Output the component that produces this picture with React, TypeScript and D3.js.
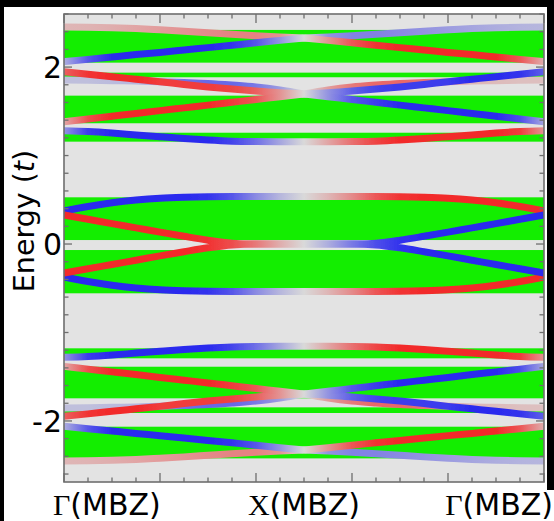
import React from "react";
import * as d3 from "d3";

const W = 554;
const H = 521;
const plot = { left: 64, right: 544, top: 14, bottom: 482 };

// Energy axis (units of t)
const energyDomain: [number, number] = [-2.69, 2.6];
const energyMajorTicks = [-2, 0, 2];
const energyMinorStep = 0.2;

// Path Γ → X → Γ, expressed as a fraction of the full path
const pathMajorTicks = [0, 0.2, 0.4, 0.6, 0.8, 1];
const pathMinorStep = 0.05;
const pointLabels = [
  { sym: "Γ", rest: "(MBZ)", k: 0 },
  { sym: "X", rest: "(MBZ)", k: 0.5 },
  { sym: "Γ", rest: "(MBZ)", k: 1 },
];

// Bulk continuum [Emin, Emax]
const bulkBands: [number, number][] = [
  [2.05, 2.42],
  [1.885, 1.937],
  [1.365, 1.677],
  [1.157, 1.258],
  [0.045, 0.528],
  [-0.557, -0.068],
  [-1.292, -1.179],
  [-1.744, -1.387],
  [-1.91, -1.846],
  [-2.423, -2.065],
];

// Momentum samples on the Γ → X half
const kHalf = [0, 0.05, 0.1, 0.15, 0.2, 0.25, 0.3, 0.35, 0.4, 0.45, 0.5];

// Edge-state energies on Γ → X
const t1E = [2.453, 2.45, 2.444, 2.435, 2.421, 2.406, 2.388, 2.37, 2.353, 2.339, 2.329];
const t2E = [2.061, 2.087, 2.114, 2.141, 2.166, 2.193, 2.22, 2.247, 2.274, 2.302, 2.329];
const s1E = [1.948, 1.92, 1.891, 1.863, 1.835, 1.803, 1.775, 1.752, 1.73, 1.709, 1.696];
const s2E = [1.854, 1.851, 1.846, 1.842, 1.835, 1.826, 1.815, 1.797, 1.775, 1.741, 1.696];
const s3E = [1.383, 1.414, 1.445, 1.476, 1.508, 1.539, 1.57, 1.602, 1.634, 1.664, 1.696];
const s4E = [1.281, 1.272, 1.255, 1.233, 1.212, 1.192, 1.175, 1.163, 1.158, 1.156, 1.156];
const m1E = [0.373, 0.424, 0.466, 0.497, 0.518, 0.529, 0.535, 0.537, 0.537, 0.537, 0.537];
const m2E = [0.328, 0.28, 0.231, 0.183, 0.134, 0.087, 0.043, 0.01, 0, 0, 0];
const m3E = [-0.328, -0.28, -0.231, -0.183, -0.134, -0.087, -0.043, -0.01, 0, 0, 0];
const m4E = [-0.373, -0.424, -0.466, -0.497, -0.518, -0.529, -0.535, -0.537, -0.537, -0.537, -0.537];
const l1E = [-1.281, -1.272, -1.255, -1.233, -1.212, -1.192, -1.175, -1.163, -1.158, -1.156, -1.156];
const l2E = [-1.383, -1.414, -1.445, -1.476, -1.508, -1.539, -1.57, -1.602, -1.634, -1.664, -1.696];
const l3E = [-1.948, -1.92, -1.891, -1.863, -1.835, -1.803, -1.775, -1.752, -1.73, -1.709, -1.696];
const l4E = [-1.854, -1.851, -1.846, -1.842, -1.835, -1.826, -1.815, -1.797, -1.775, -1.741, -1.696];
const l5E = [-2.061, -2.087, -2.114, -2.141, -2.166, -2.193, -2.22, -2.247, -2.274, -2.302, -2.329];
const l6E = [-2.453, -2.45, -2.444, -2.435, -2.421, -2.406, -2.388, -2.37, -2.353, -2.339, -2.329];

// Polarisation along Γ → X: +1 red, -1 blue, 0 unpolarised
const t1P = [0.2, 0.22, 0.25, 0.3, 0.35, 0.4, 0.45, 0.5, 0.5, 0.4, 0];
const t2P = [-0.25, -0.75, -1, -1, -1, -1, -1, -0.95, -0.75, -0.4, 0];
const s1P = [0.7, 0.95, 1, 1, 0.9, 0.9, 0.9, 0.85, 0.7, 0.4, 0];
const s2P = [-0.15, -0.15, -0.17, -0.2, -0.35, -0.6, -0.65, -0.65, -0.55, -0.35, 0];
const s3P = [0.3, 0.8, 1, 1, 1, 1, 1, 0.9, 0.75, 0.4, 0];
const s4P = [-0.4, -0.9, -1, -1, -1, -1, -1, -0.85, -0.6, -0.3, 0];
const m1P = [-1, -1, -1, -1, -1, -1, -0.95, -0.75, -0.45, -0.2, 0];
const m2P = [1, 1, 1, 1, 1, 1, 0.95, 0.8, 0.55, 0.25, 0];

const edgeStates = [
  { id: "t1", e: t1E, p: t1P },
  { id: "l6", e: l6E, p: t1P },
  { id: "s2", e: s2E, p: s2P },
  { id: "l4", e: l4E, p: s2P },
  { id: "t2", e: t2E, p: t2P },
  { id: "l5", e: l5E, p: t2P },
  { id: "s1", e: s1E, p: s1P },
  { id: "l3", e: l3E, p: s1P },
  { id: "s3", e: s3E, p: s3P },
  { id: "l2", e: l2E, p: s3P },
  { id: "s4", e: s4E, p: s4P },
  { id: "l1", e: l1E, p: s4P },
  { id: "m1", e: m1E, p: m1P },
  { id: "m4", e: m4E, p: m1P },
  { id: "m2", e: m2E, p: m2P },
  { id: "m3", e: m3E, p: m2P },
];

const RED = "#f22a2a";
const BLUE = "#2a2aee";
const NEUTRAL = "#d9d9d9";
const GREEN = "#13ee00";
const PLOT_BG = "#e3e3e3";
const AXIS = "#6e6e6e";
const SANS = "'DejaVu Sans', Verdana, sans-serif";
const SERIF = "'Liberation Serif', 'DejaVu Serif', serif";

function toneColor(p: number): string {
  const target = p >= 0 ? RED : BLUE;
  return d3.interpolateRgb(NEUTRAL, target)(Math.min(1, Math.abs(p)));
}

export default function App() {
  const x = d3.scaleLinear().domain([0, 1]).range([plot.left, plot.right]);
  const y = d3.scaleLinear().domain(energyDomain).range([plot.bottom, plot.top]);

  const line = d3
    .line<[number, number]>()
    .x((d) => x(d[0]))
    .y((d) => y(d[1]))
    .curve(d3.curveMonotoneX);

  const minorE = d3.range(-2.6, 2.6001, energyMinorStep).map((v) => Math.round(v * 10) / 10);
  const minorK = d3.range(0, 1.0001, pathMinorStep);

  const halves = edgeStates.flatMap((c) => [
    {
      key: c.id + "-a",
      pts: kHalf.map((k, i) => [k, c.e[i]] as [number, number]),
      stops: kHalf.map((k, i) => ({ off: k / 0.5, col: toneColor(c.p[i]) })),
      x1: x(0),
      x2: x(0.5),
    },
    {
      key: c.id + "-b",
      pts: kHalf.map((k, i) => [0.5 + k, c.e[kHalf.length - 1 - i]] as [number, number]),
      stops: kHalf.map((k, i) => ({ off: k / 0.5, col: toneColor(-c.p[i]) })),
      x1: x(1),
      x2: x(0.5),
    },
  ]);

  return (
    <svg width={W} height={H} style={{ display: "block", position: "absolute", left: 0, top: 0 }}>
      <rect x={0} y={0} width={W} height={H} fill="#ffffff" />
      <defs>
        <clipPath id="plot-clip">
          <rect x={plot.left} y={plot.top} width={plot.right - plot.left} height={plot.bottom - plot.top} />
        </clipPath>
        <filter id="soft" x="-5%" y="-50%" width="110%" height="200%">
          <feGaussianBlur stdDeviation="0.6" />
        </filter>
        {halves.map((h) => (
          <linearGradient key={h.key} id={"g-" + h.key} gradientUnits="userSpaceOnUse" x1={h.x1} x2={h.x2} y1={0} y2={0}>
            {h.stops.map((s, i) => (
              <stop key={i} offset={s.off} stopColor={s.col} />
            ))}
          </linearGradient>
        ))}
      </defs>

      <rect x={plot.left} y={plot.top} width={plot.right - plot.left} height={plot.bottom - plot.top} fill={PLOT_BG} />

      <g clipPath="url(#plot-clip)">
        {bulkBands.map(([lo, hi], i) => (
          <rect key={i} x={plot.left} width={plot.right - plot.left} y={y(hi)} height={y(lo) - y(hi)} fill={GREEN} />
        ))}
        <g filter="url(#soft)">
          {halves.map((h) => (
            <path key={h.key} d={line(h.pts) || ""} fill="none" stroke={`url(#g-${h.key})`} strokeWidth={7} />
          ))}
        </g>
      </g>

      {/* frame */}
      <rect
        x={plot.left}
        y={plot.top}
        width={plot.right - plot.left}
        height={plot.bottom - plot.top}
        fill="none"
        stroke={AXIS}
        strokeWidth={1.6}
      />

      {/* ticks on all four sides */}
      <g stroke={AXIS} strokeWidth={1.3}>
        {minorE.map((v) => {
          const major = energyMajorTicks.includes(v);
          const len = major ? 8 : 4.5;
          return (
            <g key={v}>
              <line x1={plot.left} x2={plot.left + len} y1={y(v)} y2={y(v)} />
              <line x1={plot.right} x2={plot.right - len} y1={y(v)} y2={y(v)} />
            </g>
          );
        })}
        {minorK.map((k, i) => {
          const major = pathMajorTicks.some((m) => Math.abs(m - k) < 1e-6);
          const len = major ? 9 : 4.5;
          return (
            <g key={i}>
              <line x1={x(k)} x2={x(k)} y1={plot.bottom} y2={plot.bottom - len} />
              <line x1={x(k)} x2={x(k)} y1={plot.top} y2={plot.top + len} />
            </g>
          );
        })}
      </g>

      <g fontFamily={SANS} fontSize={30} fill="#000">
        {energyMajorTicks.map((v) => (
          <text key={v} x={plot.left - 2} y={y(v)} dy="0.36em" textAnchor="end">
            {v < 0 ? "-" + Math.abs(v) : String(v)}
          </text>
        ))}
        <text transform={`translate(33.5,221) rotate(-90)`} textAnchor="middle" fontSize={28.5}>
          Energy (<tspan fontStyle="italic">t</tspan>)
        </text>
        {pointLabels.map((p, i) => {
          const anchor = i === 0 ? "start" : i === 2 ? "end" : "middle";
          const px = i === 0 ? x(p.k) - 11 : i === 2 ? x(p.k) + 9 : x(p.k);
          return (
            <text key={i} x={px} y={515} textAnchor={anchor}>
              <tspan fontFamily={SERIF}>{p.sym}</tspan>
              {p.rest}
            </text>
          );
        })}
      </g>

      {/* outer dark border */}
      <rect x={0} y={0} width={W} height={7} fill="#000" />
      <rect x={0} y={0} width={4} height={H} fill="#000" />
      <rect x={547} y={0} width={7} height={490} fill="#000" />
    </svg>
  );
}
